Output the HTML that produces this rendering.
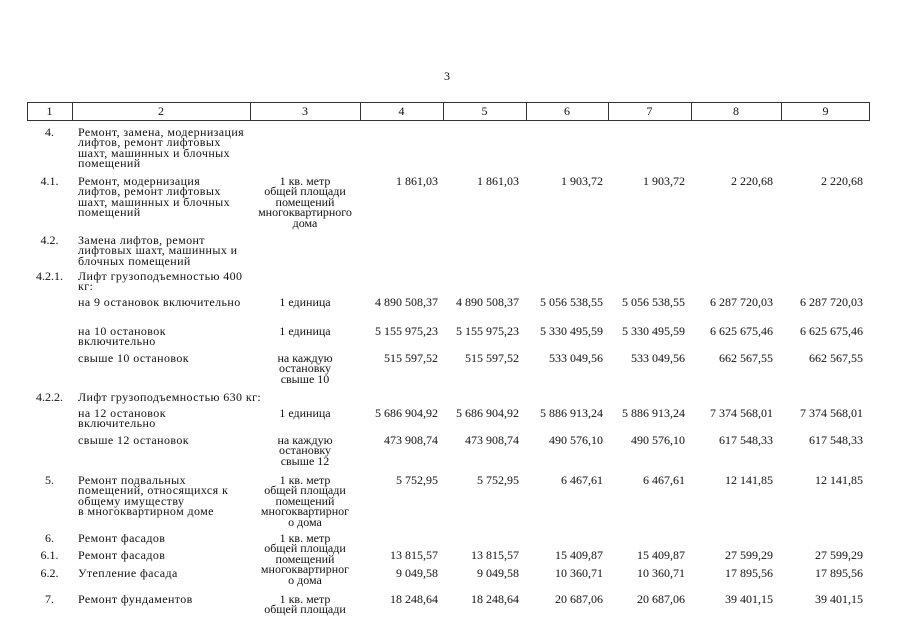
<!DOCTYPE html>
<html><head><meta charset="utf-8">
<style>
body{margin:0;background:#fff;}
#p{position:relative;width:906px;height:640px;overflow:hidden;font-family:"Liberation Serif",serif;font-size:12px;color:#111;}
#p div{position:absolute;white-space:nowrap;line-height:10.4px;}
.c1{left:27px;width:45px;text-align:center;}
.c2{left:78px;letter-spacing:0.4px;}
.c3{left:250px;width:110px;text-align:center;}
.a{left:338px;width:100px;text-align:right;}
.b{left:419px;width:100px;text-align:right;}
.c{left:503px;width:100px;text-align:right;}
.d{left:585px;width:100px;text-align:right;}
.e{left:673px;width:100px;text-align:right;}
.f{left:763px;width:100px;text-align:right;}
#hdr{left:27px;top:102px;width:843px;height:19px;border:1px solid #333;box-sizing:border-box;}
.v{top:102px;width:1px;height:19px;background:#333;}
.h{top:106px;text-align:center;}
</style></head><body><div id="p">
<div style="left:444px;top:71px;">3</div>
<div id="hdr"></div>
<div class="v" style="left:72px"></div><div class="v" style="left:250px"></div><div class="v" style="left:360px"></div><div class="v" style="left:443px"></div><div class="v" style="left:526px"></div><div class="v" style="left:608px"></div><div class="v" style="left:691px"></div><div class="v" style="left:781px"></div>
<div class="h" style="left:27px;width:45px">1</div>
<div class="h" style="left:72px;width:178px">2</div>
<div class="h" style="left:250px;width:110px">3</div>
<div class="h" style="left:360px;width:83px">4</div>
<div class="h" style="left:443px;width:83px">5</div>
<div class="h" style="left:526px;width:82px">6</div>
<div class="h" style="left:608px;width:83px">7</div>
<div class="h" style="left:691px;width:90px">8</div>
<div class="h" style="left:781px;width:89px">9</div>

<div class="c1" style="top:127px">4.</div>
<div class="c2" style="top:127px">Ремонт, замена, модернизация<br>лифтов, ремонт лифтовых<br>шахт, машинных и блочных<br>помещений</div>

<div class="c1" style="top:176px">4.1.</div>
<div class="c2" style="top:176px">Ремонт, модернизация<br>лифтов, ремонт лифтовых<br>шахт, машинных и блочных<br>помещений</div>
<div class="c3" style="top:176px">1 кв. метр<br>общей площади<br>помещений<br>многоквартирного<br>дома</div>
<div class="a" style="top:176px">1 861,03</div><div class="b" style="top:176px">1 861,03</div><div class="c" style="top:176px">1 903,72</div><div class="d" style="top:176px">1 903,72</div><div class="e" style="top:176px">2 220,68</div><div class="f" style="top:176px">2 220,68</div>

<div class="c1" style="top:235px">4.2.</div>
<div class="c2" style="top:235px">Замена лифтов, ремонт<br>лифтовых шахт, машинных и<br>блочных помещений</div>

<div class="c1" style="top:271px">4.2.1.</div>
<div class="c2" style="top:271px">Лифт грузоподъемностью 400<br>кг:</div>

<div class="c2" style="top:297px">на 9 остановок включительно</div>
<div class="c3" style="top:297px">1 единица</div>
<div class="a" style="top:297px">4 890 508,37</div><div class="b" style="top:297px">4 890 508,37</div><div class="c" style="top:297px">5 056 538,55</div><div class="d" style="top:297px">5 056 538,55</div><div class="e" style="top:297px">6 287 720,03</div><div class="f" style="top:297px">6 287 720,03</div>

<div class="c2" style="top:326px">на 10 остановок<br>включительно</div>
<div class="c3" style="top:326px">1 единица</div>
<div class="a" style="top:326px">5 155 975,23</div><div class="b" style="top:326px">5 155 975,23</div><div class="c" style="top:326px">5 330 495,59</div><div class="d" style="top:326px">5 330 495,59</div><div class="e" style="top:326px">6 625 675,46</div><div class="f" style="top:326px">6 625 675,46</div>

<div class="c2" style="top:353px">свыше 10 остановок</div>
<div class="c3" style="top:353px">на каждую<br>остановку<br>свыше 10</div>
<div class="a" style="top:353px">515 597,52</div><div class="b" style="top:353px">515 597,52</div><div class="c" style="top:353px">533 049,56</div><div class="d" style="top:353px">533 049,56</div><div class="e" style="top:353px">662 567,55</div><div class="f" style="top:353px">662 567,55</div>

<div class="c1" style="top:392px">4.2.2.</div>
<div class="c2" style="top:392px">Лифт грузоподъемностью 630 кг:</div>

<div class="c2" style="top:408px">на 12 остановок<br>включительно</div>
<div class="c3" style="top:408px">1 единица</div>
<div class="a" style="top:408px">5 686 904,92</div><div class="b" style="top:408px">5 686 904,92</div><div class="c" style="top:408px">5 886 913,24</div><div class="d" style="top:408px">5 886 913,24</div><div class="e" style="top:408px">7 374 568,01</div><div class="f" style="top:408px">7 374 568,01</div>

<div class="c2" style="top:435px">свыше 12 остановок</div>
<div class="c3" style="top:435px">на каждую<br>остановку<br>свыше 12</div>
<div class="a" style="top:435px">473 908,74</div><div class="b" style="top:435px">473 908,74</div><div class="c" style="top:435px">490 576,10</div><div class="d" style="top:435px">490 576,10</div><div class="e" style="top:435px">617 548,33</div><div class="f" style="top:435px">617 548,33</div>

<div class="c1" style="top:475px">5.</div>
<div class="c2" style="top:475px">Ремонт подвальных<br>помещений, относящихся к<br>общему имуществу<br>в многоквартирном доме</div>
<div class="c3" style="top:475px">1 кв. метр<br>общей площади<br>помещений<br>многоквартирног<br>о дома</div>
<div class="a" style="top:475px">5 752,95</div><div class="b" style="top:475px">5 752,95</div><div class="c" style="top:475px">6 467,61</div><div class="d" style="top:475px">6 467,61</div><div class="e" style="top:475px">12 141,85</div><div class="f" style="top:475px">12 141,85</div>

<div class="c1" style="top:533px">6.</div><div class="c2" style="top:533px">Ремонт фасадов</div>
<div class="c3" style="top:533px">1 кв. метр<br>общей площади<br>помещений<br>многоквартирног<br>о дома</div>
<div class="c1" style="top:550px">6.1.</div><div class="c2" style="top:550px">Ремонт фасадов</div>
<div class="a" style="top:550px">13 815,57</div><div class="b" style="top:550px">13 815,57</div><div class="c" style="top:550px">15 409,87</div><div class="d" style="top:550px">15 409,87</div><div class="e" style="top:550px">27 599,29</div><div class="f" style="top:550px">27 599,29</div>
<div class="c1" style="top:568px">6.2.</div><div class="c2" style="top:568px">Утепление фасада</div>
<div class="a" style="top:568px">9 049,58</div><div class="b" style="top:568px">9 049,58</div><div class="c" style="top:568px">10 360,71</div><div class="d" style="top:568px">10 360,71</div><div class="e" style="top:568px">17 895,56</div><div class="f" style="top:568px">17 895,56</div>

<div class="c1" style="top:594px">7.</div><div class="c2" style="top:594px">Ремонт фундаментов</div>
<div class="c3" style="top:594px">1 кв. метр<br>общей площади</div>
<div class="a" style="top:594px">18 248,64</div><div class="b" style="top:594px">18 248,64</div><div class="c" style="top:594px">20 687,06</div><div class="d" style="top:594px">20 687,06</div><div class="e" style="top:594px">39 401,15</div><div class="f" style="top:594px">39 401,15</div>
</div></body></html>
